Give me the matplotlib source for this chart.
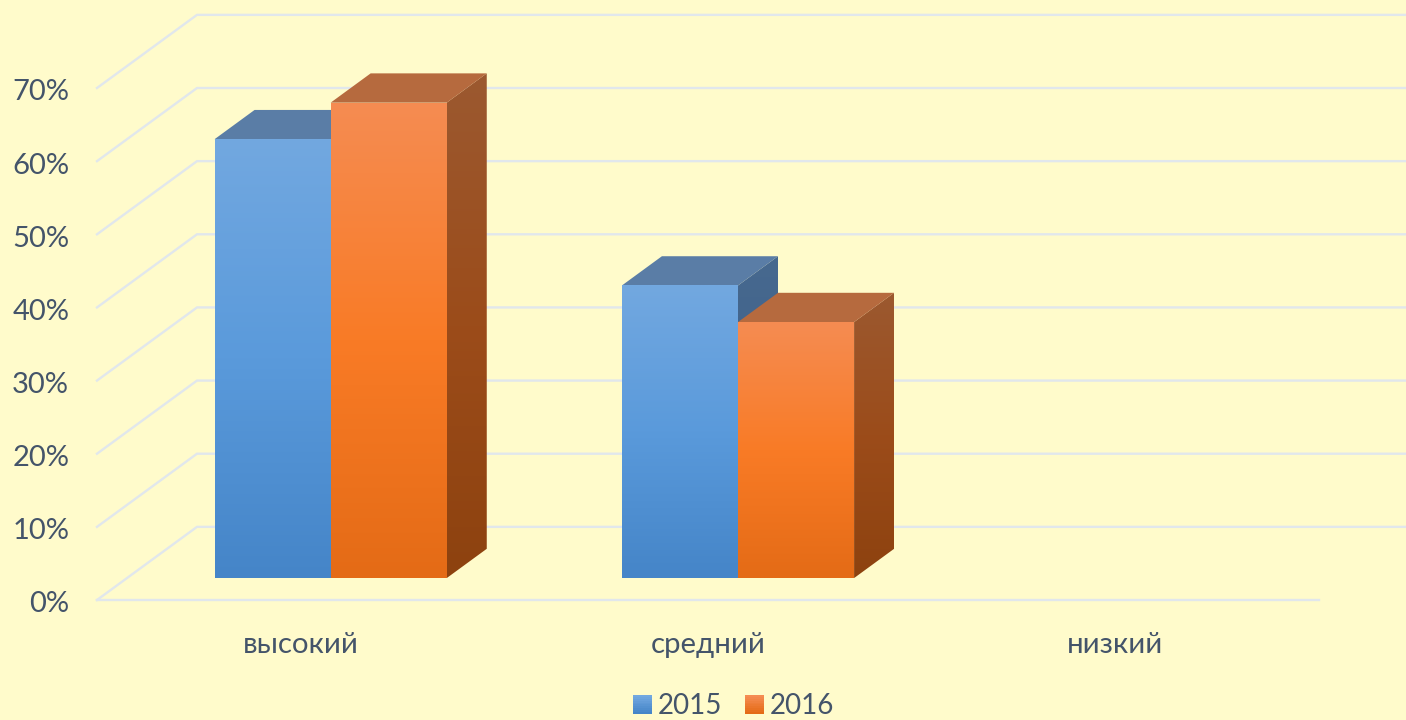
import numpy as np
import matplotlib
matplotlib.use('Agg')
import matplotlib.pyplot as plt
from matplotlib.colors import LinearSegmentedColormap, to_rgb
from matplotlib.legend_handler import HandlerPatch
from matplotlib.patches import Patch, Polygon, Rectangle
from matplotlib.transforms import ScaledTranslation

categories = ['высокий', 'средний', 'низкий']
years = ['2015', '2016']
values_2015 = [60, 40, 0]
values_2016 = [65, 35, 0]
y_ticks = [0, 10, 20, 30, 40, 50, 60, 70]
y_tick_labels = ['0%', '10%', '20%', '30%', '40%', '50%', '60%', '70%']

W, H = 1406, 720
BG = '#FFFBCB'
GRID = '#E1E7EC'
TEXT = '#44546A'

# px box of the front plane
LEFT, RIGHT, BOTTOM, TOP = 97, 1319, 600, 88

# depth of the floor in data units (100px across, one grid step up)
DEPTH_X = 100 / ((RIGHT - LEFT) / 3)
DEPTH_Y = 10
BAR_D0 = 0.3
BAR_D1 = 0.7
BAR_W = 0.285

BLUE = dict(front=['#72A8E0', '#5A9ADB', '#4585C8'], top='#5A7DA6', side=['#47698F', '#3F618A', '#365A80'])
ORANGE = dict(front=['#F58C52', '#F97B26', '#E46B16'], top='#B66A3E', side=['#9B5930', '#9C4C1A', '#8D420F'])

plt.rcParams['font.family'] = ['Lato', 'Noto Sans', 'DejaVu Sans']


def gradient_face(ax, verts, colours, z):
    verts = np.array(verts)
    cmap = LinearSegmentedColormap.from_list('f', colours)
    grad = np.linspace(0, 1, 256).reshape(-1, 1)
    im = ax.imshow(grad, cmap=cmap, aspect='auto', origin='upper', zorder=z,
                   extent=(verts[:, 0].min(), verts[:, 0].max(), verts[:, 1].min(), verts[:, 1].max()))
    im.set_clip_box(ax.figure.bbox)
    im.set_clip_path(Polygon(verts, closed=True, transform=ax.transData))


def draw_bar(ax, x0, value, style, z):
    x1 = x0 + BAR_W
    ox, oy = BAR_D0 * DEPTH_X, BAR_D0 * DEPTH_Y
    dx, dy = (BAR_D1 - BAR_D0) * DEPTH_X, (BAR_D1 - BAR_D0) * DEPTH_Y
    a, b = x0 + ox, x1 + ox
    lo, hi = oy, value + oy
    gradient_face(ax, [(a, lo), (b, lo), (b, hi), (a, hi)], style['front'], z + 1)
    gradient_face(ax, [(b, lo), (b + dx, lo + dy), (b + dx, hi + dy), (b, hi)], style['side'], z)
    ax.add_patch(Polygon([(a, hi), (b, hi), (b + dx, hi + dy), (a + dx, hi + dy)], closed=True,
                         facecolor=style['top'], edgecolor='none', clip_on=False, zorder=z))


class GradientHandler(HandlerPatch):
    def __init__(self, colours):
        super().__init__()
        self.colours = colours

    def create_artists(self, legend, orig_handle, xdescent, ydescent, width, height, fontsize, trans):
        c0, c1 = np.array(to_rgb(self.colours[0])), np.array(to_rgb(self.colours[-1]))
        bands = []
        n = 10
        for i in range(n):
            t = i / (n - 1)
            bands.append(Rectangle((-xdescent, -ydescent + height * (1 - (i + 1) / n)), width, height / n + 0.2,
                                   facecolor=c0 + (c1 - c0) * t, edgecolor='none', transform=trans))
        return bands


fig = plt.figure(figsize=(W / 100, H / 100), dpi=100, facecolor=BG)
ax = fig.add_axes([LEFT / W, (H - BOTTOM) / H, (RIGHT - LEFT) / W, (BOTTOM - TOP) / H])
ax.set_facecolor('none')
for s in ax.spines.values():
    s.set_visible(False)

# walls: diagonal on the side plus the back line
for t in y_ticks:
    ax.plot([0, DEPTH_X, 3 + DEPTH_X], [t, t + DEPTH_Y, t + DEPTH_Y], color=GRID, lw=1.7,
            clip_on=False, zorder=1, solid_joinstyle='miter')
ax.plot([0, 3], [0, 0], color=GRID, lw=1.7, clip_on=False, zorder=1)

z = 3
for i in range(len(categories)):
    centre = i + 0.5
    if values_2015[i] > 0:
        draw_bar(ax, centre - BAR_W, values_2015[i], BLUE, z)
    if values_2016[i] > 0:
        draw_bar(ax, centre, values_2016[i], ORANGE, z + 2)
    z += 4

ax.set_xlim(0, 3)
ax.set_ylim(0, 70)
ax.set_yticks(y_ticks, y_tick_labels)
ax.set_xticks([i + 0.5 for i in range(len(categories))], categories)
ax.tick_params(axis='y', length=0, pad=20, labelsize=21, labelcolor=TEXT)
ax.tick_params(axis='x', length=0, pad=23, labelsize=21.2, labelcolor=TEXT)

# tick labels sit a little lower than the grid
down = ScaledTranslation(0, -2 / 100, fig.dpi_scale_trans)
for lab in ax.get_yticklabels():
    lab.set_transform(lab.get_transform() + down)

h1 = Patch(label=years[0])
h2 = Patch(label=years[1])
fig.legend(handles=[h1, h2], loc='center', bbox_to_anchor=(733.5 / W, (H - 706.5) / H), ncol=2, frameon=False,
           fontsize=20, labelcolor=TEXT, handlelength=0.68, handleheight=0.68, handletextpad=0.22,
           columnspacing=0.8, borderpad=0, borderaxespad=0,
           handler_map={h1: GradientHandler(BLUE['front']), h2: GradientHandler(ORANGE['front'])})

fig.savefig('out.png', dpi=100, facecolor=BG)
